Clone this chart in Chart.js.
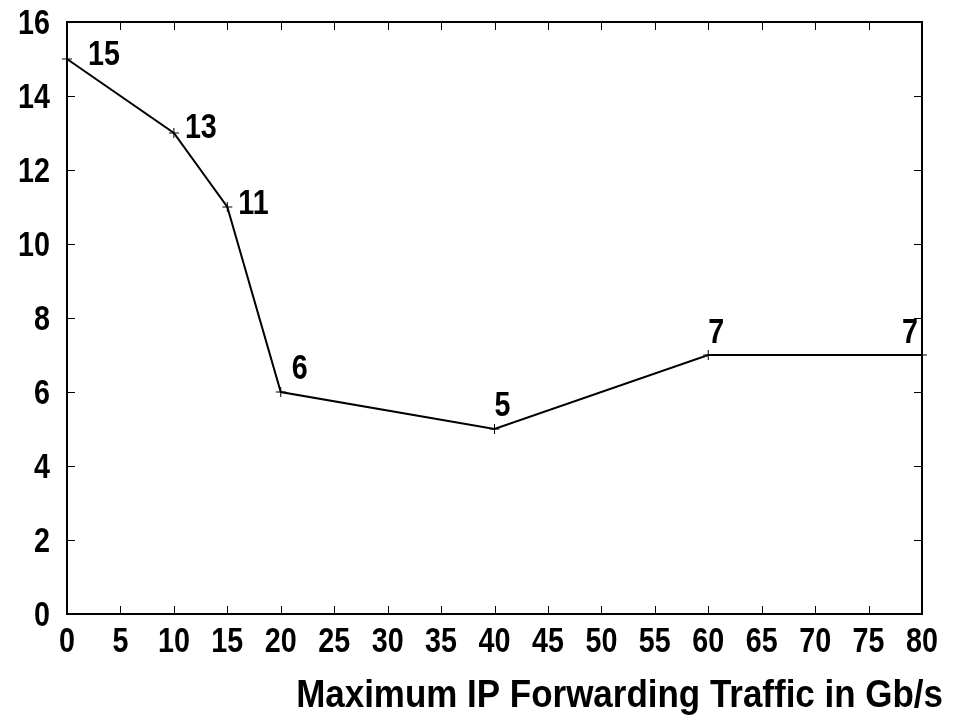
<!DOCTYPE html>
<html>
<head>
<meta charset="utf-8">
<script src="https://cdn.jsdelivr.net/npm/chart.js@4.4.1/dist/chart.umd.min.js"></script>
<style>
  html, body { margin: 0; padding: 0; background: #fff; }
  #wrap { width: 969px; height: 717px; }
</style>
</head>
<body>
<div id="wrap"><canvas id="lineChart" width="969" height="717"></canvas></div>
<script>
// data
const traffic = [0, 10, 15, 20, 40, 60, 80];
const values = [15, 13, 11, 6, 5, 7, 7];
const xTicks = [0, 5, 10, 15, 20, 25, 30, 35, 40, 45, 50, 55, 60, 65, 70, 75, 80];
const yTicks = [0, 2, 4, 6, 8, 10, 12, 14, 16];
const xTitle = 'Maximum IP Forwarding Traffic in Gb/s';

// narrow bold look: Liberation Sans Bold squeezed sideways
const FONT = "'Liberation Sans', Arial, sans-serif";

// bottom-left of each value label relative to its point (px)
const labelShift = [[21, 6], [11, 5], [11, 7], [11, -13], [0, -13], [0, -12], [-20, -12]];

function narrowText(c, str, x, y, align, size, squeeze) {
  c.save();
  c.font = 'bold ' + size + 'px ' + FONT;
  c.textAlign = align;
  c.textBaseline = 'alphabetic';
  c.translate(x, y);
  c.scale(squeeze, 1);
  c.fillText(str, 0, 0);
  c.restore();
}

const frame = {
  id: 'frame',
  afterDraw(chart) {
    const c = chart.ctx, a = chart.chartArea;
    const xs = chart.scales.x, ys = chart.scales.y;
    c.save();
    c.strokeStyle = '#000';
    c.fillStyle = '#000';
    c.lineWidth = 1;
    c.beginPath();
    xTicks.forEach(v => {
      const px = Math.round(xs.getPixelForValue(v)) + 0.5;
      c.moveTo(px, a.bottom); c.lineTo(px, a.bottom - 8);
      c.moveTo(px, a.top); c.lineTo(px, a.top + 8);
    });
    yTicks.forEach(v => {
      const py = Math.round(ys.getPixelForValue(v)) + 0.5;
      c.moveTo(a.left, py); c.lineTo(a.left + 8, py);
      c.moveTo(a.right, py); c.lineTo(a.right - 8, py);
    });
    c.stroke();
    c.lineWidth = 2;
    c.strokeRect(a.left, a.top, a.right - a.left, a.bottom - a.top);

    // tick labels
    xTicks.forEach(v => narrowText(c, String(v), xs.getPixelForValue(v), a.bottom + 38, 'center', 35, 0.82));
    yTicks.forEach(v => narrowText(c, String(v), 50, ys.getPixelForValue(v) + 12, 'right', 35, 0.82));

    // value labels
    values.forEach((v, i) => {
      const px = xs.getPixelForValue(traffic[i]);
      const py = ys.getPixelForValue(v);
      narrowText(c, String(v), px + labelShift[i][0], py + labelShift[i][1], 'left', 35, 0.82);
    });

    narrowText(c, xTitle, 943, 707, 'right', 38, 0.92);
    c.restore();
  }
};

new Chart(document.getElementById('lineChart'), {
  type: 'line',
  data: {
    datasets: [{
      data: traffic.map((x, i) => ({ x: x, y: values[i] })),
      borderColor: '#000',
      borderWidth: 2,
      pointStyle: 'cross',
      pointRadius: 5,
      pointBorderWidth: 1,
      pointBorderColor: '#000',
      tension: 0,
      clip: false
    }]
  },
  options: {
    responsive: false,
    animation: false,
    layout: { padding: { left: 0, top: 22, right: 47, bottom: 0 } },
    plugins: { legend: { display: false }, tooltip: { enabled: false } },
    scales: {
      x: {
        type: 'linear', min: 0, max: 80,
        afterBuildTicks: s => { s.ticks = xTicks.map(v => ({ value: v })); },
        afterFit: s => { s.height = 103; },
        grid: { display: false, drawTicks: false },
        border: { display: false },
        ticks: { display: false }
      },
      y: {
        min: 0, max: 16,
        afterBuildTicks: s => { s.ticks = yTicks.map(v => ({ value: v })); },
        afterFit: s => { s.width = 67; },
        grid: { display: false, drawTicks: false },
        border: { display: false },
        ticks: { display: false }
      }
    }
  },
  plugins: [frame]
});
</script>
</body>
</html>
